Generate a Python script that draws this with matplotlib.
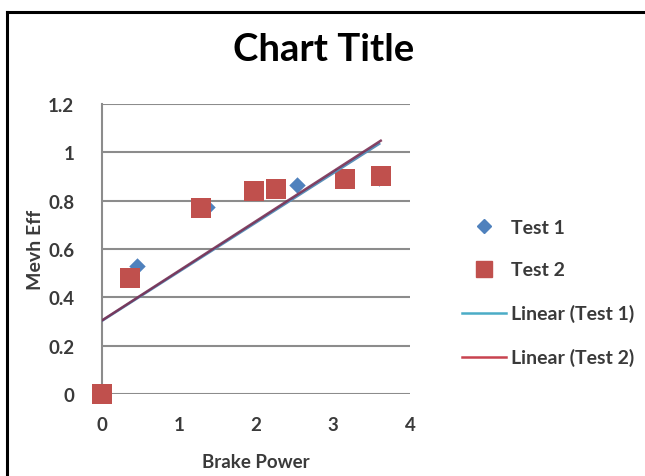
import numpy as np
import matplotlib
matplotlib.use("Agg")
import matplotlib.pyplot as plt
from matplotlib.lines import Line2D

plt.rcParams['font.family'] = ['Lato', 'DejaVu Sans']

# Test measurements: brake power vs mechanical efficiency
test1_x = [0.0, 0.46, 1.36, 1.98, 2.53, 3.17, 3.60]
test1_y = [0.0, 0.53, 0.775, 0.835, 0.865, 0.885, 0.895]
test2_x = [0.0, 0.36, 1.28, 1.97, 2.26, 3.16, 3.62]
test2_y = [0.0, 0.48, 0.77, 0.84, 0.85, 0.89, 0.90]

x_ticks = [0, 1, 2, 3, 4]
y_ticks = [0, 0.2, 0.4, 0.6, 0.8, 1.0, 1.2]
y_tick_labels = ['0', '0.2', '0.4', '0.6', '0.8', '1', '1.2']

blue = '#4F81BD'
red = '#C0504D'
trend1 = '#4BACC6'
trend1_plot = '#5A8FB8'
trend2 = '#C8434F'
trend2_plot = '#7A3054'
grid_c = '#8C8C8C'
text_c = '#3A3A3A'

fig = plt.figure(figsize=(6.45, 4.77), dpi=100)
ax = fig.add_axes([102/645, 1-395/477, (410-102)/645, (395-105)/477])

# linear trendlines over each series' data range
def linear(xs, ys):
    k, b = np.polyfit(xs, ys, 1)
    xx = np.array([min(xs), max(xs)])
    return xx, k*xx + b

t1x, t1y = linear(test1_x, test1_y)
t2x, t2y = linear(test2_x, test2_y)

ax.scatter(test1_x, test1_y, marker='D', s=70, color=blue, zorder=3,
           clip_on=False, linewidths=0)
ax.scatter(test2_x, test2_y, marker='s', s=190, color=red, zorder=4,
           clip_on=False, linewidths=0)
ax.plot(t1x, t1y, color=trend1_plot, lw=1.8, zorder=5)
ax.plot(t2x, t2y, color=trend2_plot, lw=1.8, zorder=6, alpha=0.9)

ax.set_xlim(0, 4)
ax.set_ylim(0, 1.2)
ax.set_xticks(x_ticks)
ax.set_yticks(y_ticks)
ax.set_yticklabels(y_tick_labels)
ax.grid(axis='y', color=grid_c, lw=1.5)
ax.set_axisbelow(True)
for side in ['top', 'right', 'bottom']:
    ax.spines[side].set_visible(False)
ax.spines['left'].set_color(grid_c)
ax.spines['left'].set_linewidth(1.5)
ax.tick_params(length=0, labelsize=13.5, colors=text_c)
ax.tick_params(axis='y', pad=20)
ax.tick_params(axis='x', pad=16)
for lab in ax.get_xticklabels() + ax.get_yticklabels():
    lab.set_fontweight('bold')

ax.set_xlabel('Brake Power', fontsize=13.5, fontweight='bold', color=text_c, labelpad=14)
ax.set_ylabel('Mevh Eff', fontsize=14, fontweight='bold', color=text_c, labelpad=3)

fig.text(324/645, 1-50/477, 'Chart Title', ha='center', va='center',
         fontsize=27.5, fontweight='bold', color='black')

handles = [
    Line2D([], [], marker='D', color=blue, ls='none', markersize=7),
    Line2D([], [], marker='s', color=red, ls='none', markersize=12),
    Line2D([], [], color=trend1, lw=1.8),
    Line2D([], [], color=trend2, lw=1.8),
]
labels = ['Test 1', 'Test 2', 'Linear (Test 1)', 'Linear (Test 2)']
leg = fig.legend(handles, labels, loc='center left',
                 bbox_to_anchor=(444/645, 1-293.5/477), frameon=False,
                 fontsize=14, labelspacing=1.33, handlelength=2.3,
                 handletextpad=0.25, labelcolor=text_c)
for t in leg.get_texts():
    t.set_fontweight('bold')

# outer frame (left and top edges)
fig.add_artist(Line2D([7/645, 7/645], [0, 1-12.5/477], color='black', lw=2.2,
                      transform=fig.transFigure))
fig.add_artist(Line2D([7/645, 1], [1-12.5/477, 1-12.5/477], color='black', lw=2.2,
                      transform=fig.transFigure))

fig.savefig('out.png', dpi=100)
